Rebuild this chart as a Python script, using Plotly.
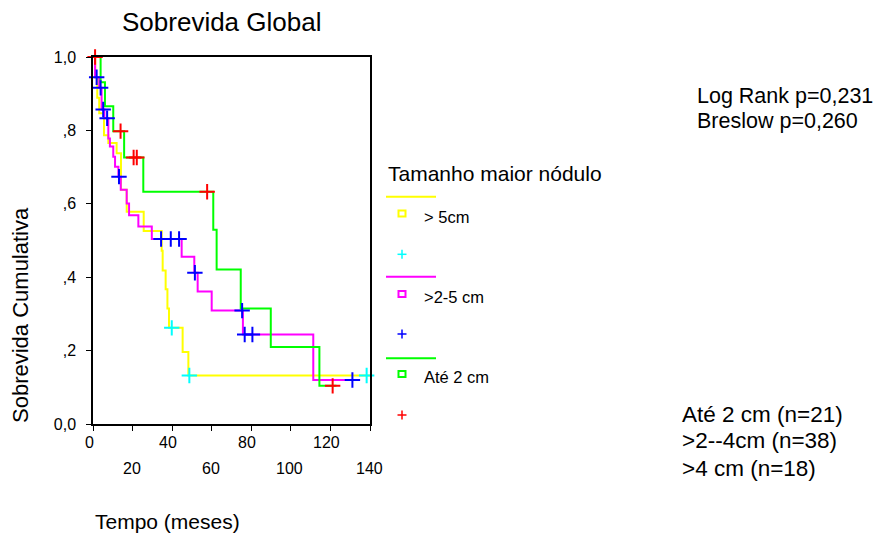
import numpy as np
import plotly.graph_objects as go

# ---------------- data ----------------
# >5cm group (yellow line, cyan censor marks)
t_big = [0, 1.0, 2.0, 3.0, 5.4, 7.6, 11.8, 14.0, 16.9, 25.5, 34.6, 35.1, 36.6, 37.5, 38.3, 45.2, 48.1, 140]
s_big = [1.0, 0.944, 0.889, 0.847, 0.787, 0.766, 0.738, 0.638, 0.578, 0.526, 0.472, 0.418, 0.367, 0.315, 0.262, 0.196, 0.132, 0.132]
c_big = [39.7, 48.6, 138.3]

# >2-5 cm group (magenta line, blue censor marks)
t_mid = [0, 0.9, 3.0, 4.2, 5.6, 7.6, 8.4, 10.1, 11.0, 12.7, 13.9, 16.9, 18.1, 22.8, 29.6, 44.7, 51.1, 52.8, 59.9, 75.7, 111.3, 131.5]
s_mid = [1.0, 0.945, 0.916, 0.857, 0.833, 0.778, 0.756, 0.728, 0.701, 0.674, 0.638, 0.601, 0.569, 0.538, 0.504, 0.456, 0.412, 0.361, 0.309, 0.244, 0.120, 0.120]
c_mid = [1.7, 3.7, 5.0, 7.0, 13.0, 34.3, 39.2, 43.4, 51.4, 75.3, 76.6, 80.5, 131.1]

# Ate 2 cm group (green line, red censor marks)
t_small = [0, 3.7, 5.9, 10.1, 15.6, 25.3, 60.7, 62.4, 74.6, 89.8, 114.4, 123.0]
s_small = [1.0, 0.931, 0.866, 0.798, 0.726, 0.633, 0.529, 0.421, 0.315, 0.210, 0.104, 0.104]
c_small = [0.9, 13.8, 20.4, 22.0, 57.6, 121.1]

x_ticks = [0, 20, 40, 60, 80, 100, 120, 140]
y_ticks = [0, 0.2, 0.4, 0.6, 0.8, 1.0]
y_ticklabels = ["0,0", ",2", ",4", ",6", ",8", "1,0"]

groups = [
    ("> 5cm", t_big, s_big, c_big, "#FFFF00", "#00FFFF"),
    (">2-5 cm", t_mid, s_mid, c_mid, "#FF00FF", "#0000FF"),
    ("Até 2 cm", t_small, s_small, c_small, "#00FF00", "#FF0000"),
]

# page body has an 8px margin; size the figure so it fills the 888x536 window
OFF = 8
W, H = 888 - OFF, 536 - OFF
FONT = "Liberation Sans, Arial, sans-serif"


def X(px):
    return (px - OFF) / W


def Y(py):
    return 1 - (py - OFF) / H


def step_at(times, surv, t):
    idx = np.searchsorted(np.asarray(times), t, side="right") - 1
    return surv[max(idx, 0)]


fig = go.Figure()

for name, t, s, c, lc, mc in groups:
    fig.add_trace(go.Scatter(x=t, y=s, mode="lines", line=dict(color=lc, width=2, shape="hv"),
                             name=name, showlegend=False, hoverinfo="skip"))

for name, t, s, c, lc, mc in groups:
    cy = [step_at(t, s, ct) for ct in c]
    fig.add_trace(go.Scatter(x=c, y=cy, mode="markers", cliponaxis=False,
                             marker=dict(symbol="cross-thin", size=11, color=mc,
                                         line=dict(color=mc, width=2)),
                             showlegend=False, hoverinfo="skip"))

fig.update_layout(
    width=W, height=H,
    margin=dict(l=0, r=0, t=0, b=0, autoexpand=False),
    paper_bgcolor="white", plot_bgcolor="white",
    font=dict(family=FONT, color="black"),
    showlegend=False,
    xaxis=dict(domain=[X(93.3), X(370)], range=[0, 140], showgrid=False, zeroline=False,
               showline=True, linewidth=2, linecolor="black", mirror=True,
               ticks="outside", ticklen=5, tickwidth=1, tickcolor="black",
               tickvals=x_ticks, showticklabels=False, automargin=False),
    yaxis=dict(domain=[Y(424), Y(57)], range=[0, 1], showgrid=False, zeroline=False,
               showline=True, linewidth=2, linecolor="black", mirror=True,
               ticks="outside", ticklen=5, tickwidth=1, tickcolor="black",
               tickvals=y_ticks, ticktext=y_ticklabels, ticklabelstandoff=7,
               tickfont=dict(size=16, family=FONT), automargin=False),
)

ann = []
# x tick labels in two staggered rows
for i, v in enumerate(x_ticks):
    row_y = Y(442) if i % 2 == 0 else Y(468)
    ann.append(dict(x=v, y=row_y, xref="x", yref="paper", text=str(v), showarrow=False,
                    xanchor="center", yanchor="middle", xshift=-4 if i % 2 == 0 else -1,
                    font=dict(size=16, family=FONT)))

ann += [
    dict(x=X(120), y=Y(22), text="Sobrevida Global", font=dict(size=26)),
    dict(x=X(93), y=Y(521), text="Tempo (meses)", font=dict(size=21)),
    dict(x=X(386), y=Y(173), text="Tamanho maior nódulo", font=dict(size=21)),
    dict(x=X(695), y=Y(96), text="Log Rank p=0,231", font=dict(size=21.5)),
    dict(x=X(695), y=Y(121), text="Breslow p=0,260", font=dict(size=21.5)),
    dict(x=X(680), y=Y(414), text="Até 2 cm (n=21)", font=dict(size=22.5)),
    dict(x=X(680), y=Y(440), text=">2--4cm (n=38)", font=dict(size=22.5)),
    dict(x=X(680), y=Y(468), text=">4 cm (n=18)", font=dict(size=22.5)),
]
for a in ann[len(x_ticks):]:
    a.update(xref="paper", yref="paper", showarrow=False, xanchor="left", yanchor="middle")
    a["font"]["family"] = FONT

ann.append(dict(x=X(20), y=Y(315), xref="paper", yref="paper", text="Sobrevida Cumulativa",
                textangle=-90, showarrow=False, xanchor="center", yanchor="middle",
                font=dict(size=22, family=FONT)))

# custom legend
shapes = []
leg_line_y = [196.7, 276.7, 358.3]
leg_sq_y = [213.5, 294, 374]
leg_txt_y = [217.5, 296.5, 376.5]
leg_cross_y = [254.3, 334, 415]
for (name, t, s, c, lc, mc), ly, sy, ty, cyy in zip(groups, leg_line_y, leg_sq_y, leg_txt_y, leg_cross_y):
    shapes.append(dict(type="line", xref="paper", yref="paper", x0=X(386), x1=X(436), y0=Y(ly), y1=Y(ly),
                       line=dict(color=lc, width=2)))
    shapes.append(dict(type="rect", xref="paper", yref="paper", x0=X(398.5), x1=X(405.5),
                       y0=Y(sy - 3), y1=Y(sy + 3), line=dict(color=lc, width=2)))
    shapes.append(dict(type="line", xref="paper", yref="paper", x0=X(397.5), x1=X(406.5),
                       y0=Y(cyy), y1=Y(cyy), line=dict(color=mc, width=1.5)))
    shapes.append(dict(type="line", xref="paper", yref="paper", x0=X(402), x1=X(402),
                       y0=Y(cyy - 4.5), y1=Y(cyy + 4.5), line=dict(color=mc, width=1.5)))
    ann.append(dict(x=X(422), y=Y(ty), xref="paper", yref="paper", text=name, showarrow=False,
                    xanchor="left", yanchor="middle", font=dict(size=16.5, family=FONT)))

fig.update_layout(annotations=ann, shapes=shapes)
fig.write_html("out.html")
